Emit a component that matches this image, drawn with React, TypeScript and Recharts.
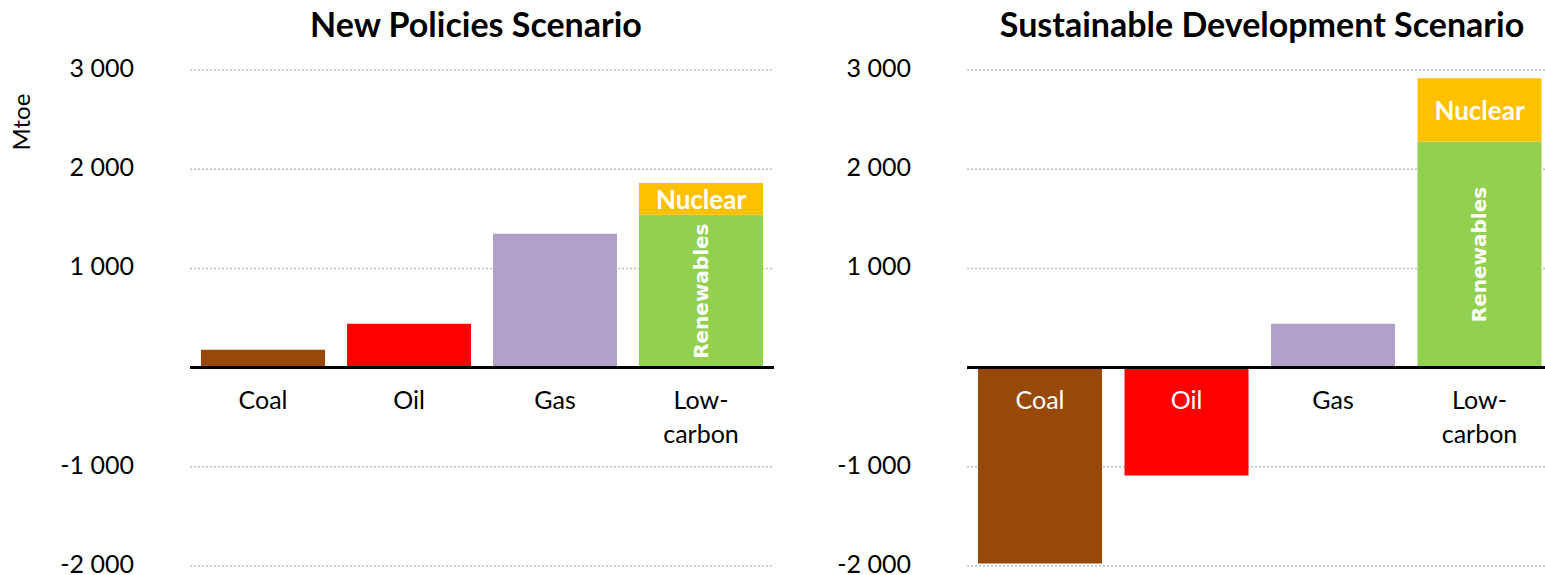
import React from 'react';
import { BarChart, Bar, XAxis, YAxis, CartesianGrid, ReferenceLine, Cell, LabelList } from 'recharts';

const categories = ['Coal', 'Oil', 'Gas', 'Low-carbon'];
const npsMain = [181, 443, 1349, 1541]; // coal, oil, gas, renewables
const npsNuclear = [0, 0, 0, 320];
const sdsMain = [-1974, -1088, 443, 2279];
const sdsNuclear = [0, 0, 0, 638];
const yTicks = [-2000, -1000, 1000, 2000, 3000];
const barColors = ['#984807', '#FF0000', '#B1A0C7', '#92D050'];
const nuclearColor = '#FFC000';

const FONT = 'Lato, "Open Sans", sans-serif';

interface Row {
  name: string;
  main: number;
  nuclear: number;
}

const buildRows = (main: number[], nuclear: number[]): Row[] =>
  categories.map((name, i) => ({ name, main: main[i], nuclear: nuclear[i] }));

const formatTick = (v: number) => {
  const sign = v < 0 ? '-' : '';
  const a = Math.abs(v);
  const th = Math.floor(a / 1000);
  const rest = String(a % 1000).padStart(3, '0');
  return th ? `${sign}${th} ${rest}` : `${sign}${a}`;
};

const YTick = (props: any) => {
  const { x, y, payload } = props;
  return (
    <text x={x - 48} y={y + 7} textAnchor="end" fontFamily={FONT} fontSize={25} fill="#000">
      {formatTick(payload.value)}
    </text>
  );
};

const box = (props: any) => {
  const vb = props.viewBox ?? props;
  return { x: Number(vb.x), y: Number(vb.y), w: Number(vb.width), h: Number(vb.height) };
};

const categoryLabel = (rows: Row[]) => (props: any) => {
  const row = rows[props.index];
  if (!row) return null;
  const { x, y, w, h } = box(props);
  const top = Math.min(y, y + h);
  const bottom = Math.max(y, y + h);
  const zero = row.main >= 0 ? bottom : top;
  const fill = row.main < 0 ? '#fff' : '#000';
  const lines = row.name.includes('-') ? [row.name.split('-')[0] + '-', row.name.split('-')[1]] : [row.name];
  return (
    <g>
      {lines.map((t, i) => (
        <text key={i} x={x + w / 2} y={zero + 41 + i * 34} textAnchor="middle" fontFamily={FONT} fontSize={25} fill={fill}>
          {t}
        </text>
      ))}
    </g>
  );
};

const renewablesLabel = (rows: Row[]) => (props: any) => {
  const row = rows[props.index];
  if (!row || row.name !== 'Low-carbon') return null;
  const { x, y, w, h } = box(props);
  const cx = x + w / 2;
  const cy = Math.min(y, y + h) + Math.abs(h) / 2;
  return (
    <text
      x={cx}
      y={cy}
      transform={`rotate(-90 ${cx} ${cy})`}
      textAnchor="middle"
      dominantBaseline="central"
      fontFamily='"DejaVu Sans", sans-serif'
      fontWeight="bold"
      fontSize={20}
      fill="#fff"
    >
      Renewables
    </text>
  );
};

// nuclear is only non-zero for low-carbon, so key off the value itself
const nuclearLabel = (props: any) => {
  const value = Number(props.value);
  if (!(value > 0)) return null;
  const { x, y, w, h } = box(props);
  if (!isFinite(x) || !isFinite(y)) return null;
  const cy = Math.min(y, y + h) + Math.abs(h) / 2;
  return (
    <text x={x + w / 2} y={cy} textAnchor="middle" dominantBaseline="central" fontFamily={FONT} fontWeight="bold" fontSize={26} fill="#fff">
      Nuclear
    </text>
  );
};

const Panel = ({ rows, axisWidth, marginRight }: { rows: Row[]; axisWidth: number; marginRight: number }) => (
  <BarChart width={780} height={575} data={rows} margin={{ top: 70, right: marginRight, bottom: 9, left: 0 }} stackOffset="sign">
    <CartesianGrid vertical={false} stroke="#BFBFBF" strokeWidth={1.5} strokeDasharray="2 2" />
    <XAxis dataKey="name" hide />
    <YAxis
      width={axisWidth}
      domain={[-2000, 3000]}
      ticks={yTicks}
      axisLine={false}
      tickLine={false}
      tick={<YTick />}
      interval={0}
    />
    <Bar dataKey="main" stackId="a" barSize={124} isAnimationActive={false}>
      {rows.map((r, i) => (
        <Cell key={r.name} fill={barColors[i]} />
      ))}
      <LabelList dataKey="name" content={categoryLabel(rows)} />
      <LabelList dataKey="name" content={renewablesLabel(rows)} />
    </Bar>
    <Bar dataKey="nuclear" stackId="a" barSize={124} fill={nuclearColor} isAnimationActive={false}>
      <LabelList dataKey="nuclear" content={nuclearLabel} />
    </Bar>
    <ReferenceLine y={0} stroke="#000" strokeWidth={3} />
  </BarChart>
);

export default function App() {
  const npsRows = buildRows(npsMain, npsNuclear);
  const sdsRows = buildRows(sdsMain, sdsNuclear);
  return (
    <div style={{ position: 'absolute', left: 0, top: 0, width: 1545, height: 575, overflow: 'hidden', background: '#fff' }}>
      <div style={{ position: 'absolute', left: 0, top: 0 }}>
        <Panel rows={npsRows} axisWidth={190} marginRight={6} />
      </div>
      <div style={{ position: 'absolute', left: 780, top: 0 }}>
        <Panel rows={sdsRows} axisWidth={187} marginRight={7} />
      </div>
      <svg width={1545} height={575} style={{ position: 'absolute', left: 0, top: 0, pointerEvents: 'none' }}>
        <text x={476} y={37} textAnchor="middle" fontFamily={FONT} fontWeight="bold" fontSize={34} fill="#000">
          New Policies Scenario
        </text>
        <text x={1262} y={37} textAnchor="middle" fontFamily={FONT} fontWeight="bold" fontSize={34} fill="#000">
          Sustainable Development Scenario
        </text>
        <text x={30} y={122} transform="rotate(-90 30 122)" textAnchor="middle" fontFamily={FONT} fontSize={24} fill="#000">
          Mtoe
        </text>
      </svg>
    </div>
  );
}
